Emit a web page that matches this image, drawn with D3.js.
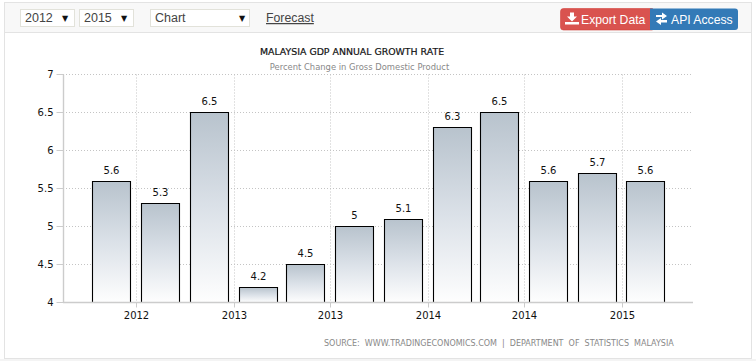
<!DOCTYPE html>
<html><head><meta charset="utf-8">
<style>html,body{margin:0;padding:0;background:#fff;overflow:hidden}svg{display:block}</style>
<script src="https://cdn.jsdelivr.net/npm/d3@7/dist/d3.min.js"></script></head>
<body><svg id="c" width="756" height="361"></svg>
<script>
const quarters = ["2012-05-15","2012-08-15","2012-11-15","2013-02-15","2013-05-15","2013-08-15","2013-11-15","2014-02-15","2014-05-15","2014-08-15","2014-11-15","2015-02-15"];
const growth = [5.6,5.3,6.5,4.2,4.5,5,5.1,6.3,6.5,5.6,5.7,5.6];
const xTickDates = ["2012-07-01","2013-01-01","2013-07-01","2014-01-01","2014-07-01","2015-01-01"];
const yTicks = [4,4.5,5,5.5,6,6.5,7];
const title = "MALAYSIA GDP ANNUAL GROWTH RATE";
const subtitle = "Percent Change in Gross Domestic Product";
const source = "SOURCE:  WWW.TRADINGECONOMICS.COM  |  DEPARTMENT  OF  STATISTICS  MALAYSIA";

const svg = d3.select("#c");
const sans = "'Liberation Sans',Arial,sans-serif", dv = "'DejaVu Sans',Verdana,sans-serif";
const parse = d3.utcParse("%Y-%m-%d");
const x = d3.scaleUtc().domain([parse("2012-02-14"),parse("2015-05-15")]).range([63,693]);
const y = d3.scaleLinear().domain([4,7]).range([302.2,74.2]);
const py = v => Math.round(y(v))+.5;
const barW = 38;

// frame
svg.append("rect").attr("x",4.5).attr("y",2.5).attr("width",747).attr("height",356).attr("fill","#fff").attr("stroke","#e3e3e3");
svg.append("rect").attr("x",5).attr("y",3).attr("width",746).attr("height",29).attr("fill","#f8f8f8");
svg.append("line").attr("x1",5).attr("x2",751).attr("y1",32.5).attr("y2",32.5).attr("stroke","#e3e3e3");
svg.append("rect").attr("x",0).attr("y",359).attr("width",756).attr("height",2).attr("fill","#f4f4f4");

// toolbar selects
[[20.5,54,"2012",25,62],[79.5,54,"2015",84,121],[150.5,99,"Chart",155,239]].forEach(([sx,w,t,tx,ax])=>{
  svg.append("rect").attr("x",sx).attr("y",9.5).attr("width",w).attr("height",17).attr("fill","#fff").attr("stroke","#e2e2da");
  svg.append("text").attr("x",tx).attr("y",22).attr("font-family",sans).attr("font-size",12.5).attr("fill","#444").text(t);
  svg.append("text").attr("x",ax+3).attr("y",21).attr("text-anchor","middle").attr("font-family",dv).attr("font-size",8).attr("fill","#111").text("▼");
});
svg.append("text").attr("x",266).attr("y",22).attr("font-family",sans).attr("font-size",12.3).attr("fill","#444").attr("text-decoration","underline").text("Forecast");

// buttons
svg.append("path").attr("d","M563.5,8.5 h89 v21.5 h-89 a3,3 0 0 1 -3,-3 v-15.5 a3,3 0 0 1 3,-3z").attr("fill","#d9534f").attr("stroke","#d43f3a").attr("stroke-width",.6);
svg.append("path").attr("d","M650,8.5 h85 a3,3 0 0 1 3,3 v15.5 a3,3 0 0 1 -3,3 h-85z").attr("fill","#337ab7");
svg.append("path").attr("d","M570,12.5 h4 v4 h3 l-5,5 l-5,-5 h3z M565,22 h14 v2.5 h-14z").attr("fill","#fff");
svg.append("text").attr("x",581).attr("y",23.5).attr("font-family",sans).attr("font-size",12.2).attr("fill","#fff").text("Export Data");
svg.append("path").attr("d","M656,15 h6 v-2.5 l5,3.5 l-5,3.5 v-2.5 h-6z M667,20 h-6 v-2 l-5,3.5 l5,3.5 v-2.5 h6z").attr("fill","#fff");
svg.append("text").attr("x",671).attr("y",23.5).attr("font-family",sans).attr("font-size",12.2).attr("fill","#fff").text("API Access");

// titles
svg.append("text").attr("x",352).attr("y",55).attr("text-anchor","middle").attr("font-family",dv).attr("font-size",9.4).attr("fill","#111").attr("stroke","#111").attr("stroke-width",.2).text(title);
svg.append("text").attr("x",359.5).attr("y",70).attr("text-anchor","middle").attr("font-family",dv).attr("font-size",8.4).attr("fill","#888").text(subtitle);

// grid
const dates = xTickDates.map(parse);
svg.append("g").selectAll("line").data(yTicks.slice(1)).join("line")
  .attr("x1",63).attr("x2",692).attr("y1",py).attr("y2",py)
  .attr("stroke","#c4c4c4").attr("stroke-dasharray","1,2");
svg.append("g").selectAll("line").data(dates).join("line")
  .attr("x1",d=>Math.round(x(d))+.5).attr("x2",d=>Math.round(x(d))+.5).attr("y1",74.5).attr("y2",302.5)
  .attr("stroke","#c4c4c4").attr("stroke-dasharray","1,2");

// gradient and bars
const defs = svg.append("defs");
const lg = defs.append("linearGradient").attr("id","barFill").attr("x1",0).attr("x2",0).attr("y1",0).attr("y2",1);
[[0,"#b8c3cd"],[.5,"#dbe1e8"],[1,"#fefefe"]].forEach(([o,c])=>lg.append("stop").attr("offset",o).attr("stop-color",c));
const data = quarters.map((q,i)=>({d:parse(q),v:growth[i]}));
const barLeft = d => Math.floor(x(d.d)-barW/2+.2)+.5;
svg.append("g").selectAll("path").data(data).join("path")
  .attr("d",d=>{const l=barLeft(d),r=l+barW,t=py(d.v),b=py(4);return `M${l},${b}V${t}H${r}V${b}`;})
  .attr("fill","url(#barFill)").attr("stroke","#000").attr("stroke-width",1.1);
svg.append("g").selectAll("text").data(data).join("text")
  .attr("x",d=>barLeft(d)+19).attr("y",d=>py(d.v)-8).attr("text-anchor","middle")
  .attr("font-family",dv).attr("font-size",10).attr("fill","#111").text(d=>d.v);

// axes
const xAxis = svg.append("g").attr("transform","translate(0,302.5)")
  .call(d3.axisBottom(x).tickValues(dates).tickFormat(d3.utcFormat("%Y")).tickSize(5).tickPadding(4).offset(0));
xAxis.selectAll(".tick").attr("transform",d=>`translate(${Math.round(x(d))+.5},0)`);
xAxis.select(".domain").attr("d","M63,0H693").attr("stroke","#ccc").attr("stroke-width",1.4);
xAxis.selectAll(".tick line").attr("stroke","#ccc");
xAxis.selectAll("text").attr("font-family",dv).attr("font-size",10).attr("fill","#111");
const yAxis = svg.append("g").attr("transform","translate(63.5,0)")
  .call(d3.axisLeft(y).tickValues(yTicks).tickFormat(d=>d).tickSize(7).tickPadding(3).offset(0));
yAxis.selectAll(".tick").attr("transform",d=>`translate(0,${py(d)})`);
yAxis.select(".domain").attr("d","M0,74.5V302.5").attr("stroke","#ccc").attr("stroke-width",1.4);
yAxis.selectAll(".tick line").attr("stroke","#ccc");
yAxis.selectAll("text").attr("font-family",dv).attr("font-size",10).attr("fill","#111");

// source
svg.append("text").attr("x",324).attr("y",346).attr("font-family",dv).attr("font-size",8).attr("fill","#888").style("white-space","pre").text(source);
</script></body></html>
